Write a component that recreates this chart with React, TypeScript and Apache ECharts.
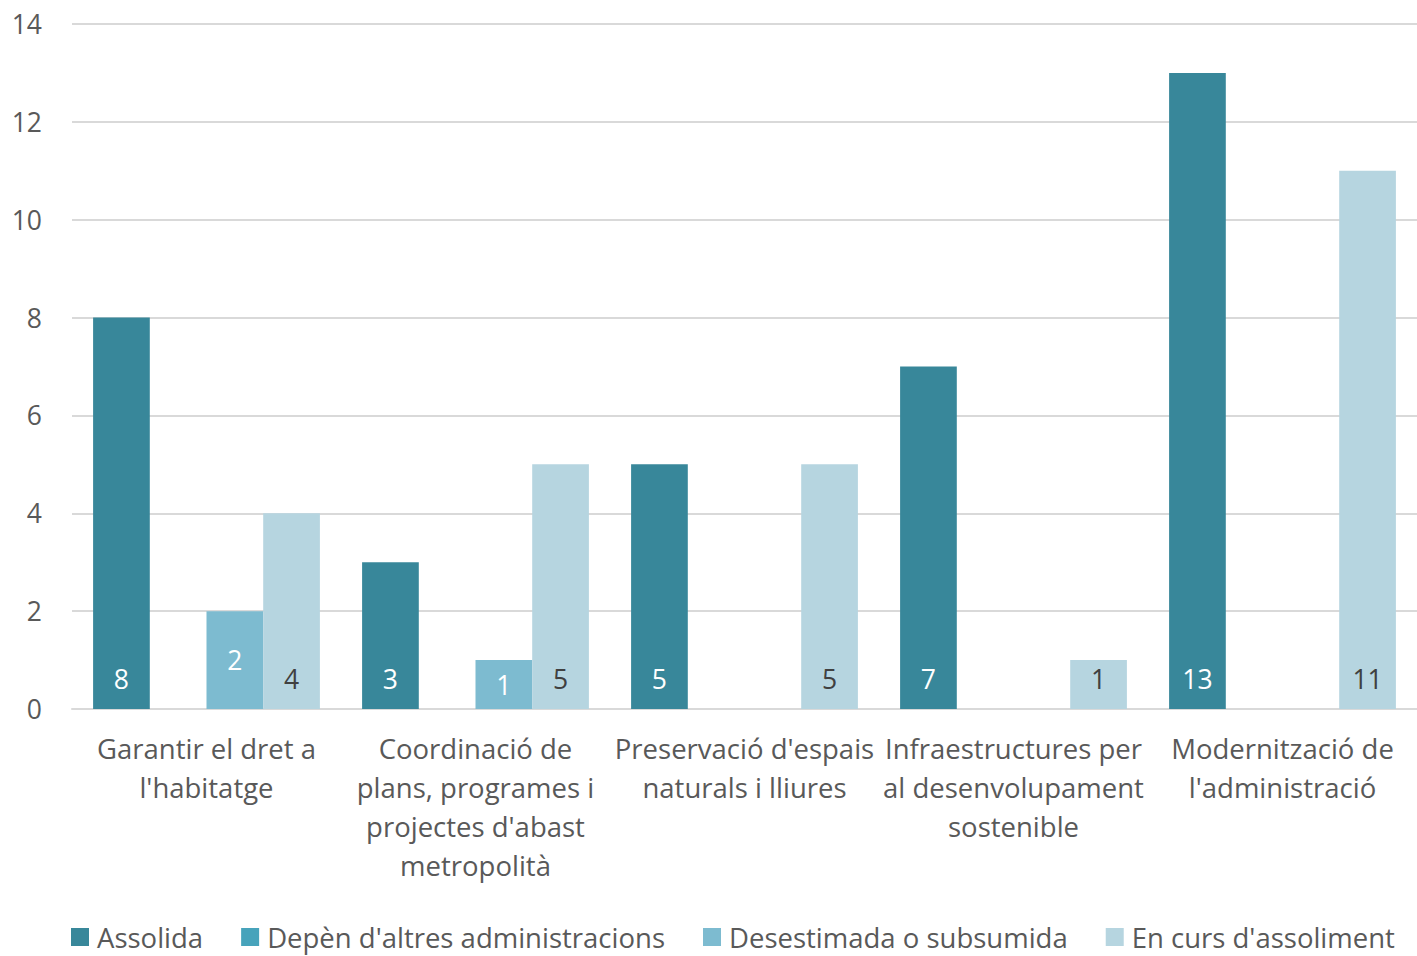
import React, { useEffect, useRef } from "react";
import * as echarts from "echarts";

const categories = [
  "Garantir el dret a\nl'habitatge",
  "Coordinació de\nplans, programes i\nprojectes d'abast\nmetropolità",
  "Preservació d'espais\nnaturals i lliures",
  "Infraestructures per\nal desenvolupament\nsostenible",
  "Modernització de\nl'administració",
];
const seriesNames = [
  "Assolida",
  "Depèn d'altres administracions",
  "Desestimada o subsumida",
  "En curs d'assoliment",
];
const assolida = [8, 3, 5, 7, 13];
const depen = [null, null, null, null, null];
const desestimada = [2, 1, null, null, null];
const enCurs = [4, 5, 5, 1, 11];
const yTicks = [0, 2, 4, 6, 8, 10, 12, 14];

const colors = ["#38879A", "#47A3BB", "#7DBBD0", "#B6D5E0"];
const FONT = "Open Sans";

export default function App() {
  const ref = useRef<HTMLDivElement>(null);
  useEffect(() => {
    if (!ref.current) return;
    const chart = echarts.init(ref.current, null, { renderer: "svg" });
    const data = [assolida, depen, desestimada, enCurs];
    const labelColors = ["#FFFFFF", "#FFFFFF", "#FFFFFF", "#404040"];
    const positions = ["insideBottom", "insideBottom", "inside", "insideBottom"];
    chart.setOption({
      animation: false,
      textStyle: { fontFamily: FONT },
      color: colors,
      legend: {
        bottom: 0,
        left: 66,
        itemWidth: 18,
        itemHeight: 18,
        itemGap: 38,
        icon: "rect",
        textStyle: { fontSize: 27.5, color: "#595959", fontFamily: FONT, padding: [0, 0, 0, 3] },
        data: seriesNames,
      },
      grid: { left: 72, right: 0, top: 24, bottom: 247, containLabel: false },
      xAxis: {
        type: "category",
        data: categories,
        axisTick: { show: false },
        axisLine: { lineStyle: { color: "#D9D9D9", width: 2 } },
        axisLabel: {
          fontSize: 27.5,
          color: "#595959",
          lineHeight: 39,
          margin: 20,
          interval: 0,
          fontFamily: FONT,
        },
      },
      yAxis: {
        type: "value",
        min: 0,
        max: 14,
        interval: 2,
        axisLine: { show: false },
        axisTick: { show: false },
        splitLine: { lineStyle: { color: "#D9D9D9", width: 2 } },
        axisLabel: {
          fontSize: 26.5,
          color: "#595959",
          margin: 30,
          fontFamily: FONT,
          formatter: (v: number) => (yTicks.includes(v) ? String(v) : ""),
        },
      },
      series: seriesNames.map((name, i) => ({
        name,
        type: "bar",
        data: data[i],
        barWidth: 56.7,
        barGap: "0%",
        itemStyle: { color: colors[i] },
        label: {
          show: true,
          position: positions[i],
          distance: 17,
          color: labelColors[i],
          fontSize: 26.5,
          fontFamily: FONT,
        },
      })),
    });
    return () => chart.dispose();
  }, []);
  return <div ref={ref} style={{ width: 1417, height: 956, position: "absolute", left: 0, top: 0 }} />;
}
